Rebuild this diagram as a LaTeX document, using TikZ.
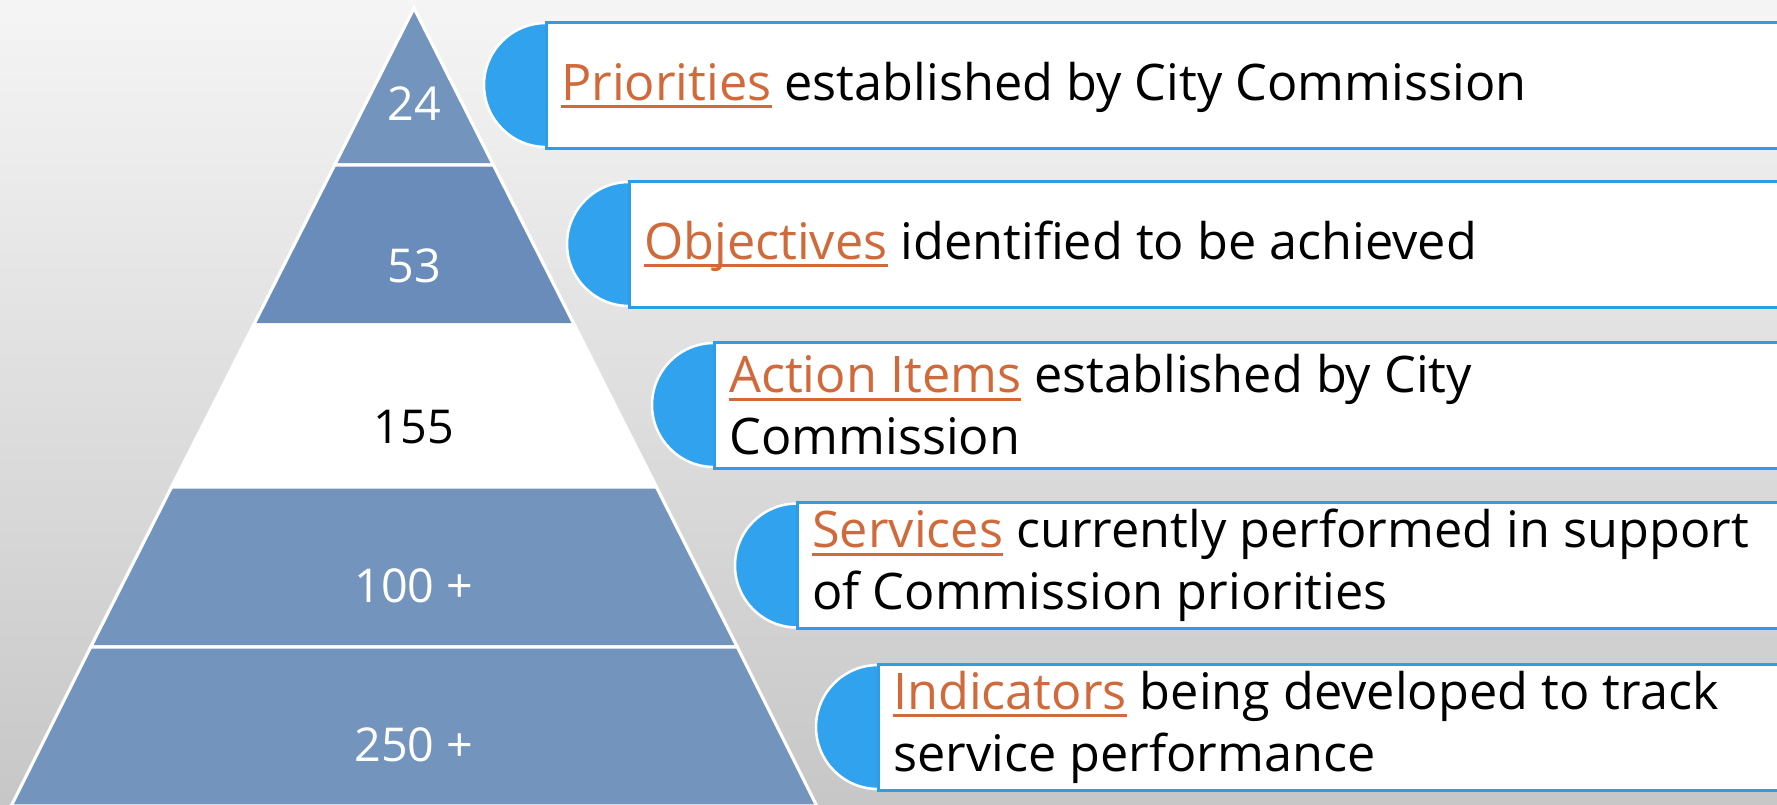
\documentclass[tikz,border=0pt]{standalone}
\usepackage{fontspec}
\setmainfont{Open Sans}
\definecolor{bandA}{HTML}{7394BD}
\definecolor{bandB}{HTML}{6A8CBA}
\definecolor{discblue}{HTML}{31A3EE}
\definecolor{boxblue}{HTML}{2E9DE8}
\definecolor{linkc}{HTML}{D06A3A}
\newcommand\lnk[1]{{\color{linkc}\setbox0\hbox{#1}\rlap{\rule[-0.16em]{\wd0}{0.06em}}\box0}}
\begin{document}
\begin{tikzpicture}[x=0.75pt,y=-0.75pt,
  band/.style={draw=white,line width=2.4pt,line join=miter},
  num/.style={font=\fontsize{35}{42}\selectfont,text=white,inner sep=0pt},
  disc/.style={circle,fill=discblue,draw=white,line width=1.9pt,minimum size=93pt,inner sep=0pt},
  card/.style={rectangle,fill=white,draw=boxblue,line width=2.25pt,minimum width=1000pt,minimum height=94.5pt,anchor=west,inner sep=0pt},
  txt/.style={anchor=west,align=left,inner sep=0pt,font=\fontsize{37.8}{46.5}\selectfont}]
\clip (0,0) rectangle (1777,804);
% background
\shade[top color=black!4,bottom color=black!22] (0,0) rectangle (1777,804);
% pyramid bands
\fill[bandA,band] (414,8) -- (493.4,165) -- (334.6,165) -- cycle;
\fill[bandB,band] (334.6,165) -- (493.4,165) -- (574.4,325) -- (253.6,325) -- cycle;
\fill[white,band] (253.6,325) -- (574.4,325) -- (656.4,487) -- (171.6,487) -- cycle;
\fill[bandA,band] (171.6,487) -- (656.4,487) -- (737.3,647) -- (90.7,647) -- cycle;
\fill[bandA,band] (90.7,647) -- (737.3,647) -- (816.8,806) -- (11.2,806) -- cycle;
\node[num] (p1) at (414,104) {24};
\node[num] (p2) at (414,266) {53};
\node[num,text=black] (p3) at (414,427) {155};
\node[num] (p4) at (414,586) {100 +};
\node[num] (p5) at (414,745) {250 +};
% callouts
\node[disc] (c1) at (546,85) {};
\node[card] (r1) at (545,85) {};
\node[txt] (t1) at (561,87) {\lnk{Priorities} established by City Commission};
\node[disc] (c2) at (629,244) {};
\node[card] (r2) at (628,244) {};
\node[txt] (t2) at (644,246) {\lnk{Objectives} identified to be achieved};
\node[disc] (c3) at (714,405) {};
\node[card] (r3) at (713,405) {};
\node[txt] (t3) at (729,405) {\lnk{Action Items} established by City\\Commission};
\node[disc] (c4) at (797,565.5) {};
\node[card] (r4) at (796,565.5) {};
\node[txt] (t4) at (812,565.5) {\lnk{Services} currently performed in support\\of Commission priorities};
\node[disc] (c5) at (878,727) {};
\node[card] (r5) at (877,727) {};
\node[txt] (t5) at (893,727) {\lnk{Indicators} being developed to track\\service performance};
\end{tikzpicture}
\end{document}
